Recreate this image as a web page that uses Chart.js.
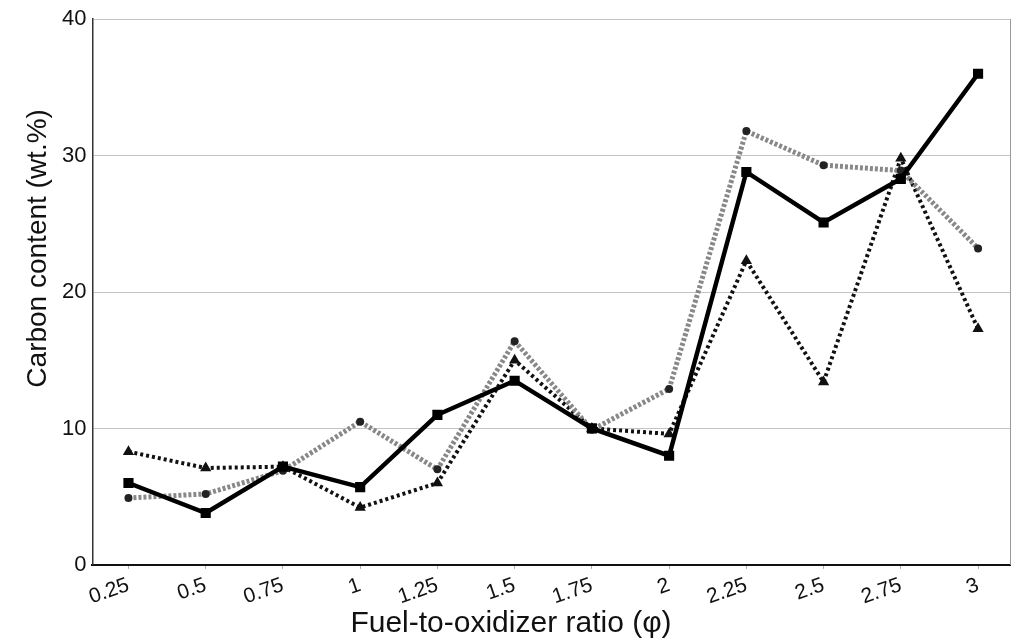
<!DOCTYPE html>
<html>
<head>
<meta charset="utf-8">
<script src="https://cdn.jsdelivr.net/npm/chart.js@4.4.1/dist/chart.umd.min.js"></script>
<style>
	html, body { margin: 0; padding: 0; background: #fff; }
	#wrap { width: 1019px; height: 644px; position: relative; }
</style>
</head>
<body>
<div id="wrap"><canvas id="carbon"></canvas></div>
<script>

	/* Data */
	var ratios = [0.25, 0.5, 0.75, 1, 1.25, 1.5, 1.75, 2, 2.25, 2.5, 2.75, 3];
	var ratioLabels = ['0.25', '0.5', '0.75', '1', '1.25', '1.5', '1.75', '2', '2.25', '2.5', '2.75', '3'];
	var yTicks = [0, 10, 20, 30, 40];

	var solidSeries = [6.0, 3.8, 7.2, 5.7, 11.0, 13.5, 10.0, 8.0, 28.8, 25.1, 28.3, 36.0];
	var greySeries = [4.9, 5.2, 6.9, 10.5, 7.0, 16.4, 9.9, 12.9, 31.8, 29.3, 28.9, 23.2];
	var dottedSeries = [8.3, 7.1, 7.2, 4.2, 6.0, 15.0, 10.0, 9.6, 22.3, 13.4, 29.8, 17.3];

	var yTitle = 'Carbon content (wt.%)';
	var xTitle = 'Fuel-to-oxidizer ratio (φ)';

	var fontFamily = '"Liberation Sans", Arial, sans-serif';


	function toPoints(values) {
		var pts = [];
		ratios.forEach(function(r, i) {
			pts.push({ x: r, y: values[i] });
		});
		return pts;
	}


	/* right frame line of the plot box */
	var frameLinePlugin = {
		id: 'frameLine',
		beforeDatasetsDraw: function(chart) {
			var c = chart.ctx;
			var area = chart.chartArea;
			c.save();
			c.strokeStyle = '#999';
			c.lineWidth = 1;
			c.beginPath();
			c.moveTo(Math.round(area.right) - 0.5, area.top);
			c.lineTo(Math.round(area.right) - 0.5, area.bottom);
			c.stroke();
			c.restore();
		}
	};

	/* axis titles are off-centre in the original, so draw them by hand */
	var axisTitlePlugin = {
		id: 'axisTitles',
		afterDraw: function(chart) {
			var c = chart.ctx;
			var area = chart.chartArea;
			c.save();
			c.fillStyle = '#111';
			c.textAlign = 'center';
			c.textBaseline = 'middle';

			c.font = '30px ' + fontFamily;
			c.fillText(xTitle, 511, 624);

			c.translate(38, area.top + (area.bottom - area.top) * 0.42);
			c.rotate(-Math.PI / 2);
			c.font = '28px ' + fontFamily;
			c.fillText(yTitle, 0, 0);
			c.restore();
		}
	};


	/* ********************************

	    Chart - Carbon content vs ratio

	******************************** */

	var ctx = document.getElementById('carbon');

	var carbonChart = new Chart(ctx, {
		type: 'line',
		plugins: [frameLinePlugin, axisTitlePlugin],
		data: {
			datasets: [{
				label: 'Series 1',
				data: toPoints(solidSeries),
				borderColor: '#000',
				backgroundColor: '#000',
				borderWidth: 4.5,
				pointStyle: 'rect',
				pointRadius: 4,
				tension: 0
			}, {
				label: 'Series 2',
				data: toPoints(greySeries),
				borderColor: '#888',
				backgroundColor: '#222',
				borderWidth: 5,
				borderDash: [3, 2],
				pointStyle: 'circle',
				pointRadius: 4,
				pointBorderWidth: 0,
				tension: 0
			}, {
				label: 'Series 3',
				data: toPoints(dottedSeries),
				borderColor: '#111',
				backgroundColor: '#111',
				borderWidth: 4,
				borderDash: [3, 3],
				pointStyle: 'triangle',
				pointRadius: 2.5,
				tension: 0
			}]
		},
		options: {
			responsive: true,
			maintainAspectRatio: false,
			animation: false,
			layout: {
				padding: { top: 8, right: 0, left: 56, bottom: 30 }
			},
			plugins: {
				legend: { display: false },
				tooltip: { enabled: false }
			},
			scales: {
				x: {
					type: 'linear',
					min: 0.1335,
					max: 3.105,
					afterBuildTicks: function(scale) {
						scale.ticks = ratios.map(function(v) { return { value: v }; });
					},
					afterFit: function(scale) {
						// the last label ends at its tick, no extra room needed on the right
						scale.paddingRight = 0;
					},
					ticks: {
						autoSkip: false,
						minRotation: 19,
						maxRotation: 19,
						padding: 4,
						color: '#111',
						font: { family: fontFamily, size: 21 },
						callback: function(value, index) {
							return ratioLabels[index];
						}
					},
					grid: {
						drawOnChartArea: false,
						drawTicks: true,
						tickLength: 4,
						tickColor: '#aaa'
					},
					border: { color: '#111', width: 2 }
				},
				y: {
					min: 0,
					max: 40,
					afterBuildTicks: function(scale) {
						scale.ticks = yTicks.map(function(v) { return { value: v }; });
					},
					ticks: {
						padding: 6,
						color: '#111',
						font: { family: fontFamily, size: 22 }
					},
					grid: {
						color: function(c) {
							return c.tick && c.tick.value === 0 ? 'rgba(0,0,0,0)' : '#c4c4c4';
						},
						drawTicks: false
					},
					border: { color: '#333', width: 1.5 }
				}
			}
		}
	});

</script>
</body>
</html>
